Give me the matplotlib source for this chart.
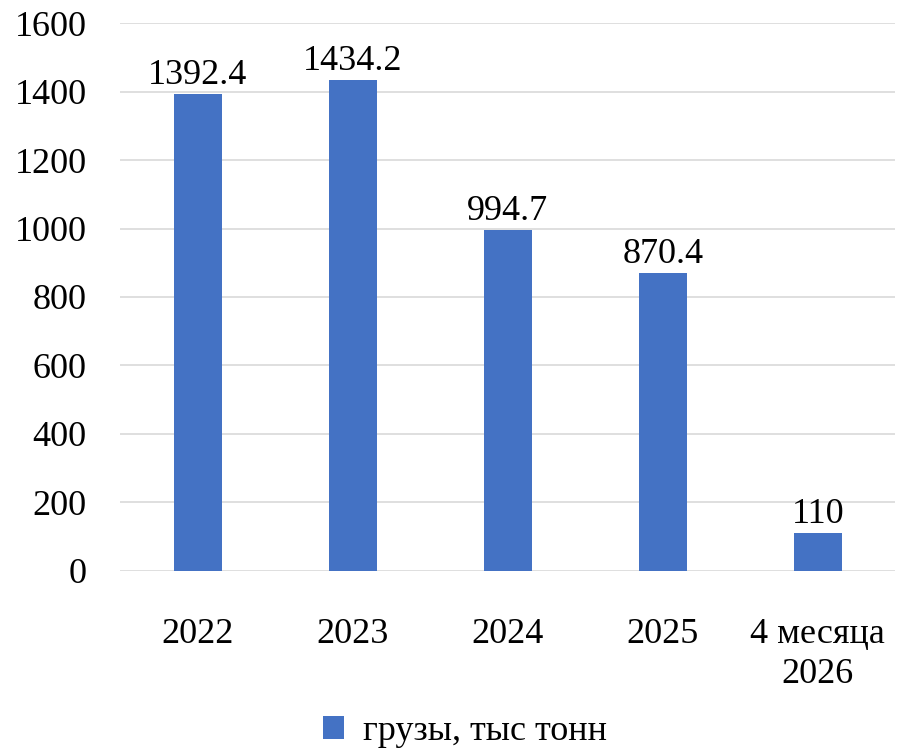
import matplotlib
matplotlib.use("Agg")
import matplotlib.pyplot as plt

categories = ["2022", "2023", "2024", "2025", "4 месяца\n2026"]
values = [1392.4, 1434.2, 994.7, 870.4, 110]
value_labels = ["1392.4", "1434.2", "994.7", "870.4", "110"]
yticks = [0, 200, 400, 600, 800, 1000, 1200, 1400, 1600]

plt.rcParams['font.family'] = ['Liberation Serif', 'DejaVu Serif']

fig = plt.figure(figsize=(8.97, 7.49), dpi=100)
ax = fig.add_axes([0.134, 0.238, 0.864, 0.731])

x = range(len(categories))
bars = ax.bar(x, values, width=0.31, color='#4472C4', zorder=3, label='грузы, тыс тонн')

for xi, v, lab in zip(x, values, value_labels):
    ax.text(xi, v + 6, lab, ha='center', va='bottom', fontsize=26, color='black')

ax.set_xlim(-0.5, 4.5)
ax.set_ylim(0, 1600)
ax.set_yticks(yticks)
ax.set_yticklabels([str(t) for t in yticks], fontsize=26)
ax.set_xticks(list(x))
ax.set_xticklabels(categories, fontsize=26, linespacing=1.3)
ax.tick_params(axis='both', length=0)
ax.tick_params(axis='y', pad=24)
ax.tick_params(axis='x', pad=34)
ax.grid(axis='y', color='#d9d9d9', linewidth=1.2, zorder=0)
for s in ax.spines.values():
    s.set_visible(False)

fig.legend(handles=[bars], labels=['грузы, тыс тонн'], loc='center', bbox_to_anchor=(0.518, 0.023),
           frameon=False, fontsize=26, handlelength=0.6, handleheight=0.6, handletextpad=0.5)

plt.savefig("out.png", dpi=100)
